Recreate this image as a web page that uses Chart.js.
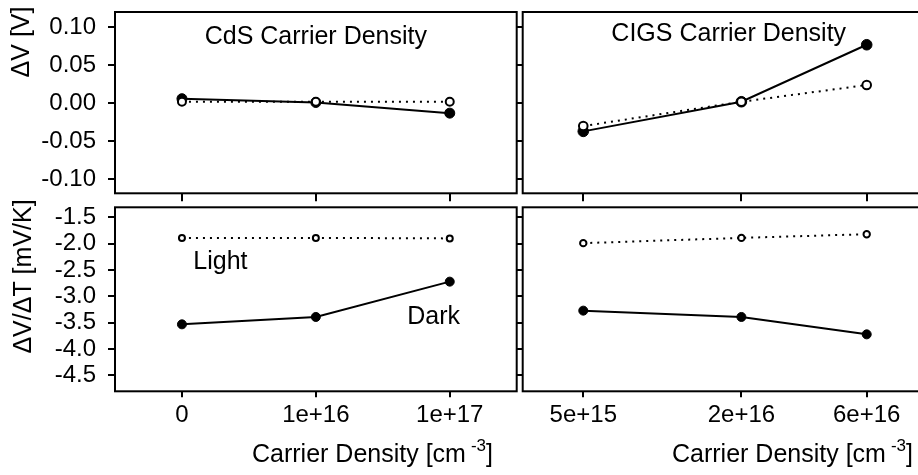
<!DOCTYPE html>
<html>
<head>
<meta charset="utf-8">
<script src="https://cdn.jsdelivr.net/npm/chart.js@4/dist/chart.umd.min.js"></script>
<style>
  html, body { margin: 0; padding: 0; background: #fff; width: 918px; height: 475px; overflow: hidden; }
  #wrap { position: relative; width: 918px; height: 475px; overflow: hidden; }
  canvas { position: absolute; left: 0; top: 0; }
</style>
</head>
<body>
<div id="wrap">
  <canvas id="tl" width="940" height="475"></canvas>
  <canvas id="tr" width="940" height="475"></canvas>
  <canvas id="bl" width="940" height="475"></canvas>
  <canvas id="br" width="940" height="475"></canvas>
</div>
<script>
// Categories and tick labels
const cdsLabels = ['0', '1e+16', '1e+17'];
const cigsDensity = [5e15, 2e16, 6e16];
const cigsTickLabels = ['5e+15', '2e+16', '6e+16'];
const dvTicks = [-0.10, -0.05, 0.00, 0.05, 0.10];
const dvTickLabels = ['-0.10', '-0.05', '0.00', '0.05', '0.10'];
const slopeTicks = [-4.5, -4.0, -3.5, -3.0, -2.5, -2.0, -1.5];
const slopeTickLabels = ['-4.5', '-4.0', '-3.5', '-3.0', '-2.5', '-2.0', '-1.5'];

// Voltage shift ΔV [V]
const cdsDarkDV = [0.006, 0.001, -0.013];
const cdsLightDV = [0.002, 0.002, 0.002];
const cigsDarkDV = [-0.037, 0.002, 0.077];
const cigsLightDV = [-0.030, 0.002, 0.024];

// Temperature coefficient ΔV/ΔT [mV/K]
const cdsDarkSlope = [-3.53, -3.39, -2.72];
const cdsLightSlope = [-1.89, -1.89, -1.90];
const cigsDarkSlope = [-3.27, -3.39, -3.72];
const cigsLightSlope = [-1.99, -1.89, -1.82];

const W = 940, H = 475, X_AXIS_H = 45;
const FONT = 'Liberation Sans, Arial, Helvetica, sans-serif';

const darkStyle = {
  label: 'Dark', borderColor: '#000', backgroundColor: '#000', borderWidth: 2,
  pointBorderWidth: 1, pointBackgroundColor: '#000', pointBorderColor: '#000',
  tension: 0, order: 1
};
const lightStyle = {
  label: 'Light', borderColor: '#000', backgroundColor: '#fff', borderWidth: 2, borderDash: [2, 5],
  pointBorderWidth: 2, pointBackgroundColor: '#fff', pointBorderColor: '#000',
  tension: 0, order: 0
};

// Frame around the plotting region, free text inside it, and axis titles
const panelPlugin = {
  id: 'panelDecor',
  afterDraw(chart, args, opts) {
    const ctx = chart.ctx, a = chart.chartArea;
    ctx.save();
    ctx.strokeStyle = '#000';
    ctx.lineWidth = 2;
    ctx.strokeRect(a.left, a.top, a.right - a.left, a.bottom - a.top);
    ctx.fillStyle = '#000';
    (opts.notes || []).forEach(n => {
      ctx.font = n.size + 'px ' + FONT;
      ctx.textAlign = n.align || 'center';
      ctx.textBaseline = 'middle';
      ctx.fillText(n.text, chart.scales.x.getPixelForValue(n.x), chart.scales.y.getPixelForValue(n.y));
    });
    (opts.titles || []).forEach(t => {
      ctx.font = '25px ' + FONT;
      ctx.textBaseline = 'middle';
      if (t.rotate) {
        ctx.save();
        ctx.translate(t.px, t.py);
        ctx.rotate(-Math.PI / 2);
        ctx.textAlign = 'center';
        ctx.fillText(t.text, 0, 0);
        ctx.restore();
      } else {
        ctx.textAlign = 'left';
        ctx.fillText(t.text, t.px, t.py);
        let w = ctx.measureText(t.text).width;
        if (t.sup) {
          ctx.font = '17px ' + FONT;
          ctx.fillText(t.sup, t.px + w + 5, t.py - 9);
          w += 5 + ctx.measureText(t.sup).width;
          ctx.font = '25px ' + FONT;
        }
        if (t.tail) ctx.fillText(t.tail, t.px + w, t.py);
      }
    });
    ctx.restore();
  }
};

function tickGrid(len) {
  return { drawOnChartArea: false, drawTicks: true, tickLength: len, color: '#000', lineWidth: 2 };
}

function noScalePadding(s) {
  s.paddingTop = 0; s.paddingBottom = 0; s.paddingLeft = 0; s.paddingRight = 0;
}

function makePanel(id, cfg) {
  const xb = cfg.xBox, yb = cfg.yBox;
  const xScale = Object.assign({
    border: { display: false },
    grid: tickGrid(cfg.xLabels ? 6 : 8),
    ticks: { display: cfg.xLabels, color: '#000', font: { family: FONT, size: 24 }, padding: 4, maxRotation: 0, autoSkip: false },
    afterFit: s => { s.height = X_AXIS_H; noScalePadding(s); }
  }, cfg.x);
  const yScale = Object.assign({
    border: { display: false },
    grid: tickGrid(cfg.yLabels ? 7 : 6),
    ticks: { display: cfg.yLabels, color: '#000', font: { family: FONT, size: 24 }, padding: 12, autoSkip: false,
             callback: (v, i) => cfg.yTickLabels[i] },
    afterBuildTicks: s => { s.ticks = cfg.yTicks.map(v => ({ value: v })); },
    afterFit: s => { s.width = xb[0]; noScalePadding(s); }
  }, cfg.y);
  return new Chart(document.getElementById(id), {
    type: 'line',
    data: cfg.data,
    options: {
      responsive: false, animation: false, devicePixelRatio: 1,
      layout: { autoPadding: false, padding: { left: 0, top: yb[0], right: W - xb[1], bottom: H - yb[1] - X_AXIS_H } },
      plugins: {
        legend: { display: false }, tooltip: { enabled: false },
        panelDecor: { notes: cfg.notes || [], titles: cfg.titles || [] }
      },
      scales: { x: xScale, y: yScale }
    },
    plugins: [panelPlugin]
  });
}

const LEFT_X = [115, 516.7], RIGHT_X = [522.7, 924.4];
const TOP_Y = [12, 193.3], BOT_Y = [207.3, 391.3];

const cdsX = { type: 'category', offset: true };
const cigsX = {
  type: 'logarithmic', min: 2.94e15, max: 9.95e16,
  afterBuildTicks: s => { s.ticks = cigsDensity.map(v => ({ value: v })); }
};
const cigsXTicks = (v, i) => cigsTickLabels[i];
const dvY = { type: 'linear', min: -0.1185, max: 0.1201 };
const slopeY = { type: 'linear', min: -4.80, max: -1.31 };

const pts = (xs, ys) => xs.map((x, i) => ({ x: x, y: ys[i] }));

makePanel('tl', {
  xBox: LEFT_X, yBox: TOP_Y, xLabels: false, yLabels: true,
  x: cdsX, y: dvY, yTicks: dvTicks, yTickLabels: dvTickLabels,
  data: { labels: cdsLabels, datasets: [
    Object.assign({}, lightStyle, { data: cdsLightDV, pointRadius: 4 }),
    Object.assign({}, darkStyle, { data: cdsDarkDV, pointRadius: 5 })
  ] },
  notes: [{ text: 'CdS Carrier Density', x: 1.0, y: 0.087, size: 25 }],
  titles: [{ text: 'ΔV [V]', px: 22, py: 42, rotate: true }]
});

makePanel('tr', {
  xBox: RIGHT_X, yBox: TOP_Y, xLabels: false, yLabels: false,
  x: Object.assign({}, cigsX), y: dvY, yTicks: dvTicks, yTickLabels: dvTickLabels,
  data: { datasets: [
    Object.assign({}, lightStyle, { data: pts(cigsDensity, cigsLightDV), pointRadius: 4.3 }),
    Object.assign({}, darkStyle, { data: pts(cigsDensity, cigsDarkDV), pointRadius: 5.3 })
  ] },
  notes: [{ text: 'CIGS Carrier Density', x: 1.79e16, y: 0.0905, size: 25 }]
});

makePanel('bl', {
  xBox: LEFT_X, yBox: BOT_Y, xLabels: true, yLabels: true,
  x: cdsX, y: slopeY, yTicks: slopeTicks, yTickLabels: slopeTickLabels,
  data: { labels: cdsLabels, datasets: [
    Object.assign({}, lightStyle, { data: cdsLightSlope, pointRadius: 3 }),
    Object.assign({}, darkStyle, { data: cdsDarkSlope, pointRadius: 4.5 })
  ] },
  notes: [
    { text: 'Light', x: 0.085, y: -2.343, size: 25, align: 'left' },
    { text: 'Dark', x: 1.683, y: -3.387, size: 25, align: 'left' }
  ],
  titles: [
    { text: 'ΔV/ΔT [mV/K]', px: 24, py: 276.5, rotate: true },
    { text: 'Carrier Density [cm', sup: '-3', tail: ']', px: 252, py: 455 }
  ]
});

const brX = Object.assign({}, cigsX);
brX.ticks = { display: true, color: '#000', font: { family: FONT, size: 24 }, padding: 4, maxRotation: 0, autoSkip: false, callback: cigsXTicks };
makePanel('br', {
  xBox: RIGHT_X, yBox: BOT_Y, xLabels: true, yLabels: false,
  x: brX, y: slopeY, yTicks: slopeTicks, yTickLabels: slopeTickLabels,
  data: { datasets: [
    Object.assign({}, lightStyle, { data: pts(cigsDensity, cigsLightSlope), pointRadius: 3.2 }),
    Object.assign({}, darkStyle, { data: pts(cigsDensity, cigsDarkSlope), pointRadius: 4.5 })
  ] },
  titles: [
    { text: 'Carrier Density [cm', sup: '-3', tail: ']', px: 672, py: 455 }
  ]
});
</script>
</body>
</html>
